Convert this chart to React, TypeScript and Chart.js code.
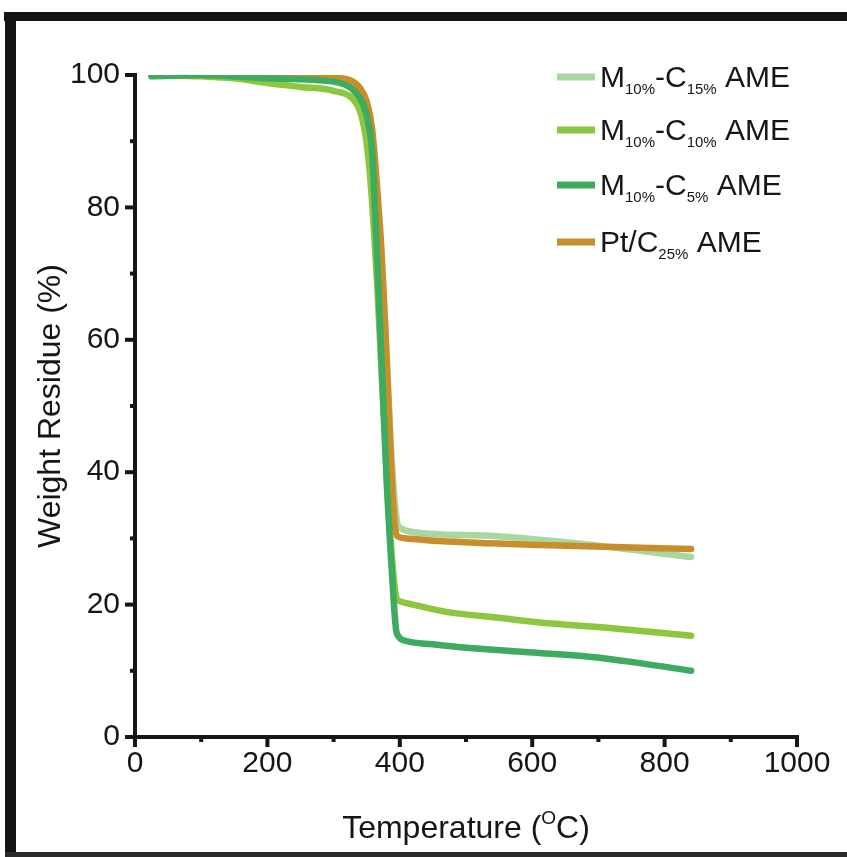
import React, { useEffect, useRef } from "react";
import { Chart, registerables } from "chart.js";
Chart.register(...registerables);

// ---- data ----
const tempC15 = [25, 100, 200, 300, 330, 345, 355, 362, 368, 374, 380, 386, 392, 397, 400, 425, 536, 662, 840];
const wC15 = [100, 100, 99.8, 99.5, 98.5, 96, 92, 86, 78, 70, 58, 45, 36, 32, 31.6, 30.9, 30.4, 29.3, 27.2];

const tempC10 = [25, 100, 150, 200, 250, 300, 330, 340, 348, 354, 360, 366, 372, 378, 384, 390, 395, 400, 420, 470, 550, 612, 713, 840];
const wC10 = [100, 99.8, 99.5, 98.8, 98.2, 97.6, 96.3, 94.5, 91, 86, 78, 68, 56, 44, 33, 25, 21, 20.5, 20, 18.9, 18, 17.3, 16.5, 15.3];

const tempC5 = [25, 100, 200, 300, 330, 345, 352, 358, 362, 366, 372, 380, 388, 394, 398, 410, 450, 510, 610, 690, 760, 840];
const wC5 = [99.8, 100, 99.5, 99, 97.7, 95.5, 93, 88.7, 81, 72, 58, 39, 25, 16.5, 15.2, 14.5, 14, 13.4, 12.7, 12.1, 11.2, 10.0];

const tempPt = [25, 100, 200, 300, 325, 340, 350, 358, 365, 372, 378, 384, 389, 393, 397, 410, 461, 612, 840];
const wPt = [100, 100, 100, 99.6, 99.2, 98, 96, 92, 84, 74, 62, 48, 37, 31.5, 30.3, 30.0, 29.6, 29.0, 28.4];

const xTickValues = [0, 200, 400, 600, 800, 1000];
const yTickValues = [0, 20, 40, 60, 80, 100];

// legend labels: [text, isSubscript]
const legendC15: [string, boolean][] = [["M", false], ["10%", true], ["-C", false], ["15%", true], [" AME", false]];
const legendC10: [string, boolean][] = [["M", false], ["10%", true], ["-C", false], ["10%", true], [" AME", false]];
const legendC5: [string, boolean][] = [["M", false], ["10%", true], ["-C", false], ["5%", true], [" AME", false]];
const legendPt: [string, boolean][] = [["Pt/C", false], ["25%", true], [" AME", false]];

const colC15 = "#aad6a2";
const colC10 = "#8dc63f";
const colC5 = "#3dab60";
const colPt = "#c98e2c";

const FONT = '"Liberation Sans", Arial, sans-serif';
const INK = "#161616";

const pts = (t: number[], w: number[]) => t.map((x, i) => ({ x, y: w[i] }));

const decorPlugin = {
  id: "decor",
  afterDraw(chart: any) {
    const ctx = chart.ctx as CanvasRenderingContext2D;
    const { left, right, top, bottom } = chart.chartArea;
    const xs = chart.scales.x;
    const ys = chart.scales.y;
    ctx.save();
    ctx.fillStyle = INK;
    // axis lines
    ctx.fillRect(left - 2, ys.getPixelForValue(100) - 2, 4, bottom - ys.getPixelForValue(100) + 4);
    ctx.fillRect(left - 2, bottom - 2, xs.getPixelForValue(1000) - left + 4, 4);
    // y ticks
    for (let v = 0; v <= 100; v += 10) {
      const py = ys.getPixelForValue(v);
      const len = v % 20 === 0 ? 10 : 5;
      ctx.fillRect(left - len, py - 2, len, 4);
    }
    // x ticks
    for (let v = 0; v <= 1000; v += 100) {
      const px = xs.getPixelForValue(v);
      const len = v % 200 === 0 ? 10 : 5;
      ctx.fillRect(px - 2, bottom, 4, len);
    }
    // y title
    ctx.save();
    ctx.translate(48, (top + bottom) / 2);
    ctx.rotate(-Math.PI / 2);
    ctx.font = `32px ${FONT}`;
    ctx.textAlign = "center";
    ctx.textBaseline = "alphabetic";
    ctx.fillText("Weight Residue (%)", 0, 12);
    ctx.restore();
    // x title
    ctx.textAlign = "left";
    ctx.textBaseline = "alphabetic";
    const mainF = `32px ${FONT}`;
    const supF = `19px ${FONT}`;
    ctx.font = mainF;
    const a = "Temperature (";
    const c = "C)";
    const wa = ctx.measureText(a).width;
    const wc = ctx.measureText(c).width;
    ctx.font = supF;
    const wo = ctx.measureText("O").width;
    const total = wa + wo + wc;
    let x0 = (left + right) / 2 - total / 2;
    const base = 838;
    ctx.font = mainF;
    ctx.fillText(a, x0, base);
    x0 += wa;
    ctx.font = supF;
    ctx.fillText("O", x0, base - 14);
    x0 += wo;
    ctx.font = mainF;
    ctx.fillText(c, x0, base);
    // legend
    const rows: [[string, boolean][], string, number][] = [
      [legendC15, colC15, 77],
      [legendC10, colC10, 130],
      [legendC5, colC5, 185],
      [legendPt, colPt, 242],
    ];
    for (const [parts, col, cy] of rows) {
      ctx.fillStyle = col;
      ctx.fillRect(557, cy - 3.5, 38, 7);
      ctx.fillStyle = INK;
      let x = 600;
      for (const [txt, sub] of parts) {
        ctx.font = sub ? `15px ${FONT}` : `30px ${FONT}`;
        ctx.fillText(txt, x, cy + 9.5 + (sub ? 7 : 0));
        x += ctx.measureText(txt).width;
      }
    }
    ctx.restore();
  },
};

export default function App() {
  const ref = useRef<HTMLCanvasElement>(null);
  useEffect(() => {
    document.body.style.margin = "0";
    const common = {
      pointRadius: 0,
      borderWidth: 6.5,
      borderCapStyle: "round" as const,
      borderJoinStyle: "round" as const,
      cubicInterpolationMode: "monotone" as const,
      fill: false,
    };
    const chart = new Chart(ref.current!, {
      type: "line",
      data: {
        datasets: [
          { label: "M10%-C5% AME", data: pts(tempC5, wC5), borderColor: colC5, ...common },
          { label: "Pt/C25% AME", data: pts(tempPt, wPt), borderColor: colPt, ...common },
          { label: "M10%-C10% AME", data: pts(tempC10, wC10), borderColor: colC10, ...common },
          { label: "M10%-C15% AME", data: pts(tempC15, wC15), borderColor: colC15, ...common },
        ],
      },
      options: {
        animation: false,
        responsive: false,
        devicePixelRatio: 1,
        layout: { padding: { top: 75, right: 50, left: 0, bottom: 0 } },
        plugins: { legend: { display: false }, tooltip: { enabled: false } },
        scales: {
          x: {
            type: "linear",
            min: 0,
            max: 1000,
            afterFit: (s: any) => { s.height = 120; },
            afterBuildTicks: (s: any) => { s.ticks = xTickValues.map((v) => ({ value: v })); },
            ticks: {
              font: { family: FONT, size: 30 },
              color: INK,
              padding: 9,
              maxRotation: 0,
              autoSkip: false,
              callback: (v: any) => String(v),
            },
            grid: { display: false, drawTicks: false },
            border: { display: false },
          },
          y: {
            type: "linear",
            min: 0,
            max: 100,
            afterFit: (s: any) => { s.width = 135; },
            afterBuildTicks: (s: any) => { s.ticks = yTickValues.map((v) => ({ value: v })); },
            ticks: {
              font: { family: FONT, size: 30 },
              color: INK,
              padding: 15,
              autoSkip: false,
              callback: (v: any) => String(v),
            },
            grid: { display: false, drawTicks: false },
            border: { display: false },
          },
        },
      },
      plugins: [decorPlugin],
    });
    return () => chart.destroy();
  }, []);
  return (
    <div style={{ position: "relative", width: 847, height: 857, background: "#fff", overflow: "hidden" }}>
      <canvas ref={ref} width={847} height={857} style={{ position: "absolute", left: 0, top: 0, width: 847, height: 857 }} />
      <div style={{ position: "absolute", left: 4, top: 12, width: 843, height: 9, background: "#151515" }} />
      <div style={{ position: "absolute", left: 5, top: 12, width: 11, height: 845, background: "#151515" }} />
      <div style={{ position: "absolute", left: 5, top: 852, width: 842, height: 5, background: "#2a2a2a" }} />
    </div>
  );
}
